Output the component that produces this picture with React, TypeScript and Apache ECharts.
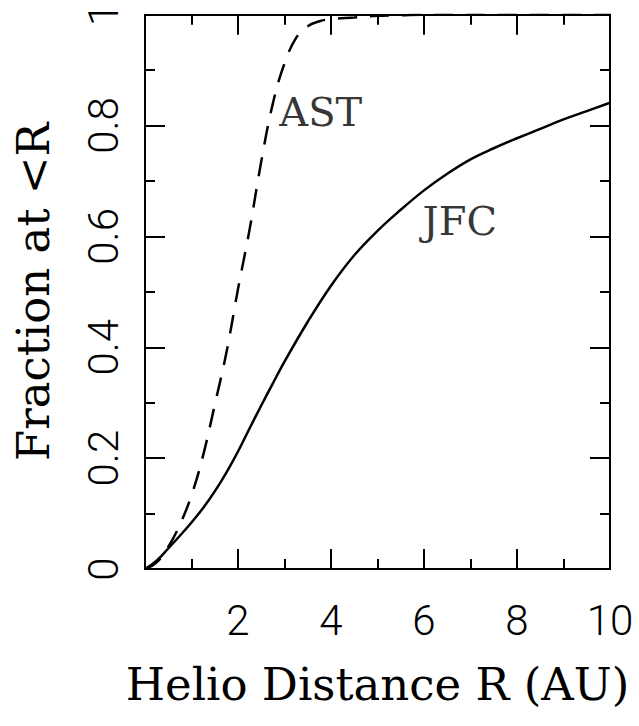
import React, { useEffect, useRef } from "react";
import * as echarts from "echarts";

// Heliocentric distance R (AU)
const jfcR = [0, 0.25, 0.5, 0.75, 1.0, 1.25, 1.5, 1.75, 2.0, 2.25, 2.5, 2.75, 3.0, 3.5, 4.0, 4.5, 5.0, 5.5, 6.0, 6.5, 7.0, 7.5, 8.0, 8.5, 9.0, 9.5, 10.0];
const jfcFraction = [0, 0.015, 0.037, 0.06, 0.084, 0.11, 0.14, 0.174, 0.212, 0.254, 0.295, 0.335, 0.374, 0.446, 0.511, 0.566, 0.61, 0.648, 0.683, 0.713, 0.739, 0.759, 0.777, 0.794, 0.811, 0.826, 0.841];

const astR = [0, 0.25, 0.5, 0.75, 1.0, 1.25, 1.5, 1.75, 2.0, 2.25, 2.5, 2.75, 3.0, 3.25, 3.5, 3.75, 4.0, 4.5, 5.0, 5.5, 6.0, 8.0, 10.0];
const astFraction = [0, 0.012, 0.04, 0.08, 0.133, 0.205, 0.296, 0.39, 0.505, 0.613, 0.735, 0.84, 0.912, 0.958, 0.979, 0.988, 0.992, 0.995, 0.998, 0.999, 1.0, 1.0, 1.0];

const curveLabels = ["AST", "JFC"];
const curveLabelR = [3.78, 6.77];
const curveLabelFraction = [0.825, 0.627];

const xTitle = "Helio Distance R (AU)";
const yTitle = "Fraction at <R";

const SERIF = "'DejaVu Serif', 'Liberation Serif', serif";
const SANS = "Roboto, 'Liberation Sans', sans-serif";

export default function App() {
  const ref = useRef<HTMLDivElement>(null);
  useEffect(() => {
    if (!ref.current) return;
    const chart = echarts.init(ref.current, undefined, { renderer: "svg" });
    const black = "#000";
    const lineCommon = { show: true, onZero: false, lineStyle: { color: black, width: 2 } };
    const tickCommon = { show: true, inside: true, length: 20, lineStyle: { color: black, width: 2 } };
    const minorCommon = { show: true, splitNumber: 2, length: 10, lineStyle: { color: black, width: 2 } };
    const fmt = (v: number) => String(Math.round(v * 10) / 10);
    chart.setOption({
      animation: false,
      backgroundColor: "#fff",
      grid: { left: 145, right: 29, top: 9, bottom: 157, containLabel: false },
      xAxis: [
        {
          type: "value", min: 0, max: 10, interval: 2, position: "bottom",
          axisLine: lineCommon, axisTick: tickCommon, minorTick: minorCommon,
          splitLine: { show: false }, minorSplitLine: { show: false },
          axisLabel: {
            show: true, margin: 30, color: black, fontSize: 42, fontFamily: SANS, fontWeight: 300,
            formatter: (v: number) => (v === 0 ? "" : fmt(v)),
          },
          name: xTitle, nameLocation: "middle", nameGap: 93,
          nameTextStyle: { color: black, fontSize: 45, fontFamily: SERIF },
        },
        {
          type: "value", min: 0, max: 10, interval: 2, position: "top",
          axisLine: lineCommon, axisTick: tickCommon, minorTick: minorCommon,
          splitLine: { show: false }, axisLabel: { show: false },
        },
      ],
      yAxis: [
        {
          type: "value", min: 0, max: 1, interval: 0.2, position: "left",
          axisLine: lineCommon, axisTick: tickCommon, minorTick: minorCommon,
          splitLine: { show: false }, minorSplitLine: { show: false },
          axisLabel: {
            show: true, rotate: 90, margin: 21, color: black, fontSize: 42, fontFamily: SANS, fontWeight: 300,
            formatter: fmt,
          },
          name: yTitle, nameLocation: "middle", nameGap: 89,
          nameTextStyle: { color: black, fontSize: 45, fontFamily: SERIF },
        },
        {
          type: "value", min: 0, max: 1, interval: 0.2, position: "right",
          axisLine: lineCommon, axisTick: tickCommon, minorTick: minorCommon,
          splitLine: { show: false }, axisLabel: { show: false },
        },
      ],
      series: [
        {
          name: "JFC", type: "line", xAxisIndex: 0, yAxisIndex: 0,
          data: jfcR.map((r, i) => [r, jfcFraction[i]]),
          symbol: "none", smooth: 0.4,
          lineStyle: { color: black, width: 2.5 },
        },
        {
          name: "AST", type: "line", xAxisIndex: 0, yAxisIndex: 0,
          data: astR.map((r, i) => [r, astFraction[i]]),
          symbol: "none", smooth: 0.4,
          lineStyle: { color: black, width: 2.5, type: [19, 13] },
        },
        {
          name: "labels", type: "scatter", xAxisIndex: 0, yAxisIndex: 0,
          symbolSize: 1, itemStyle: { color: "rgba(0,0,0,0)" },
          data: curveLabels.map((n, i) => ({ name: n, value: [curveLabelR[i], curveLabelFraction[i]] })),
          label: {
            show: true, position: "inside", formatter: "{b}",
            color: black, fontSize: 40, fontFamily: SERIF,
          },
          silent: true,
        },
      ],
    });
    return () => chart.dispose();
  }, []);
  return <div ref={ref} style={{ width: 639, height: 726, position: "absolute", left: 0, top: 0 }} />;
}
